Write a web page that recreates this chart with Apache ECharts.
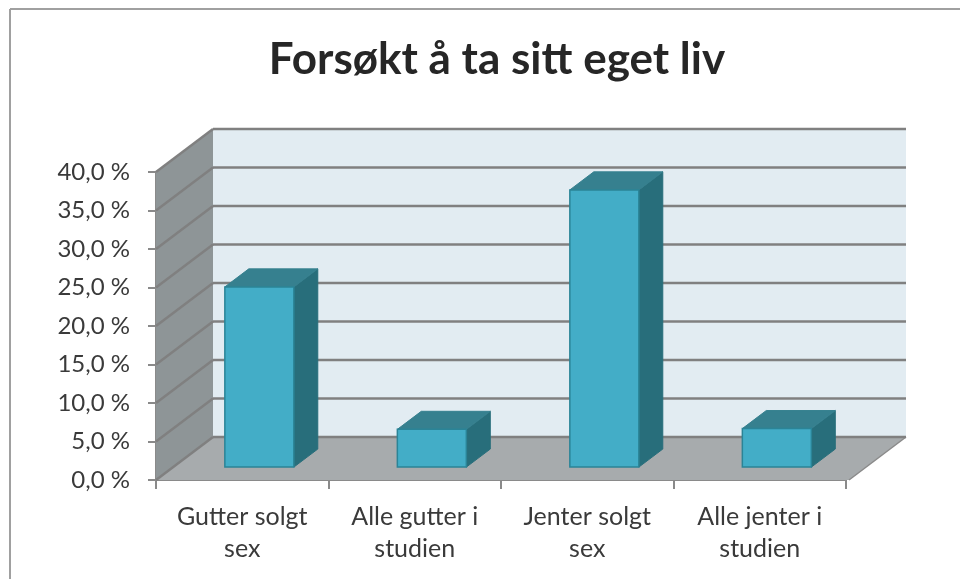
<!DOCTYPE html>
<html>
<head>
<meta charset="utf-8">
<script src="https://cdn.jsdelivr.net/npm/echarts@6/dist/echarts.min.js"></script>
<style>
	html, body { margin: 0; padding: 0; background: #fff; }
	#chart { width: 960px; height: 579px; }
</style>
</head>
<body>
<div id="chart"></div>
<script>
var chartTitle = 'Forsøkt å ta sitt eget liv';
var categories = ['Gutter solgt\nsex', 'Alle gutter i\nstudien', 'Jenter solgt\nsex', 'Alle jenter i\nstudien'];
var values = [23.4, 4.9, 36.0, 5.0];
var yTicks = [0, 5, 10, 15, 20, 25, 30, 35, 40];

// depth of the 3d box, in pixels
var DX = 57;
var DY = -43;

var colors = {
	backWall: '#e2ecf2',
	sideWall: '#8e9597',
	floor: '#a7abad',
	grid: '#808080',
	axis: '#8a8a8a',
	front: '#43adc7',
	frontBorder: '#2b8497',
	top: '#36808f',
	side: '#286e7b',
	text: '#3a3a3a'
};

var chart = echarts.init(document.getElementById('chart'));

function renderWalls(params, api) {
	var cs = params.coordSys;
	var left = cs.x, right = cs.x + cs.width, top = cs.y, bottom = cs.y + cs.height;
	var v = api.value(0);
	var y = api.coord([0, v])[1];
	var children = [];
	var lineStyle = { stroke: colors.grid, lineWidth: 2.5 };

	if (params.dataIndex === 0) {
		children.push({
			type: 'rect', z2: 0,
			shape: { x: left + DX, y: top + DY, width: cs.width + 3, height: cs.height },
			style: { fill: colors.backWall }
		});
		children.push({
			type: 'polygon', z2: 0,
			shape: { points: [[left, top], [left + DX, top + DY], [left + DX, bottom + DY], [left, bottom]] },
			style: { fill: colors.sideWall }
		});
		children.push({
			type: 'polygon', z2: 0,
			shape: { points: [[left, bottom], [left + DX, bottom + DY], [right + DX + 3, bottom + DY], [right + 3, bottom]] },
			style: { fill: colors.floor }
		});
		children.push({
			type: 'line', z2: 1,
			shape: { x1: right + 3, y1: bottom, x2: right + DX + 3, y2: bottom + DY },
			style: { stroke: colors.axis, lineWidth: 1.5 }
		});
	}
	children.push({
		type: 'line', z2: 1,
		shape: { x1: left + DX, y1: y + DY, x2: right + DX + 3, y2: y + DY },
		style: lineStyle
	});
	children.push({
		type: 'line', z2: 1,
		shape: { x1: left, y1: y, x2: left + DX, y2: y + DY },
		style: lineStyle
	});
	return { type: 'group', children: children };
}

function renderBar(params, api) {
	var idx = api.value(0);
	var base = api.coord([idx, 0]);
	var topPt = api.coord([idx, api.value(1)]);
	var bw = api.size([1, 0])[0] * 0.4;
	var d0 = 0.3, d1 = 0.42;
	var fx = base[0] - bw / 2 + d0 * DX;
	var fyBot = base[1] + d0 * DY;
	var fyTop = topPt[1] + d0 * DY;
	var ddx = d1 * DX, ddy = d1 * DY;
	return {
		type: 'group',
		children: [
			{
				type: 'polygon',
				shape: { points: [[fx + bw, fyTop], [fx + bw + ddx, fyTop + ddy], [fx + bw + ddx, fyBot + ddy], [fx + bw, fyBot]] },
				style: { fill: colors.side, stroke: colors.side, lineWidth: 1 }
			},
			{
				type: 'polygon',
				shape: { points: [[fx, fyTop], [fx + bw, fyTop], [fx + bw + ddx, fyTop + ddy], [fx + ddx, fyTop + ddy]] },
				style: { fill: colors.top, stroke: colors.top, lineWidth: 1 }
			},
			{
				type: 'rect',
				shape: { x: fx, y: fyTop, width: bw, height: fyBot - fyTop },
				style: { fill: colors.front, stroke: colors.frontBorder, lineWidth: 1.5 }
			}
		]
	};
}

chart.setOption({
	animation: false,
	title: {
		text: chartTitle,
		left: 492,
		top: 33,
		textAlign: 'center',
		textStyle: {
			fontFamily: 'Lato',
			fontWeight: 'bold',
			fontSize: 44,
			color: '#262626'
		}
	},
	graphic: [
		{ type: 'line', shape: { x1: 10, y1: 9, x2: 10, y2: 579 }, style: { stroke: '#a0a0a0', lineWidth: 2 } },
		{ type: 'line', shape: { x1: 10, y1: 9, x2: 960, y2: 9 }, style: { stroke: '#a0a0a0', lineWidth: 2 } }
	],
	grid: {
		left: 156,
		top: 172,
		width: 690,
		height: 308
	},
	xAxis: {
		type: 'category',
		data: categories,
		axisLine: { show: true, lineStyle: { color: colors.axis, width: 2 } },
		axisTick: { show: true, length: 9, lineStyle: { color: colors.axis, width: 2 } },
		axisLabel: {
			interval: 0,
			margin: 21,
			fontFamily: 'Lato',
			fontSize: 25,
			lineHeight: 32,
			color: colors.text
		},
		splitLine: { show: false }
	},
	yAxis: {
		type: 'value',
		min: 0,
		max: 40,
		interval: 5,
		axisLine: { show: true, lineStyle: { color: colors.axis, width: 2 } },
		axisTick: { show: true, length: 8, lineStyle: { color: colors.axis, width: 2 } },
		axisLabel: {
			margin: 26,
			fontFamily: 'Lato',
			fontSize: 24,
			color: colors.text,
			formatter: function (v) { return v.toFixed(1).replace('.', ',') + ' %'; }
		},
		splitLine: { show: false }
	},
	series: [
		{
			type: 'custom',
			z: 1,
			silent: true,
			renderItem: renderWalls,
			data: yTicks.map(function (t) { return [t]; }),
			encode: { y: 0 }
		},
		{
			type: 'custom',
			z: 3,
			renderItem: renderBar,
			data: values.map(function (v, i) { return [i, v]; }),
			encode: { x: 0, y: 1 }
		}
	]
});
</script>
</body>
</html>
